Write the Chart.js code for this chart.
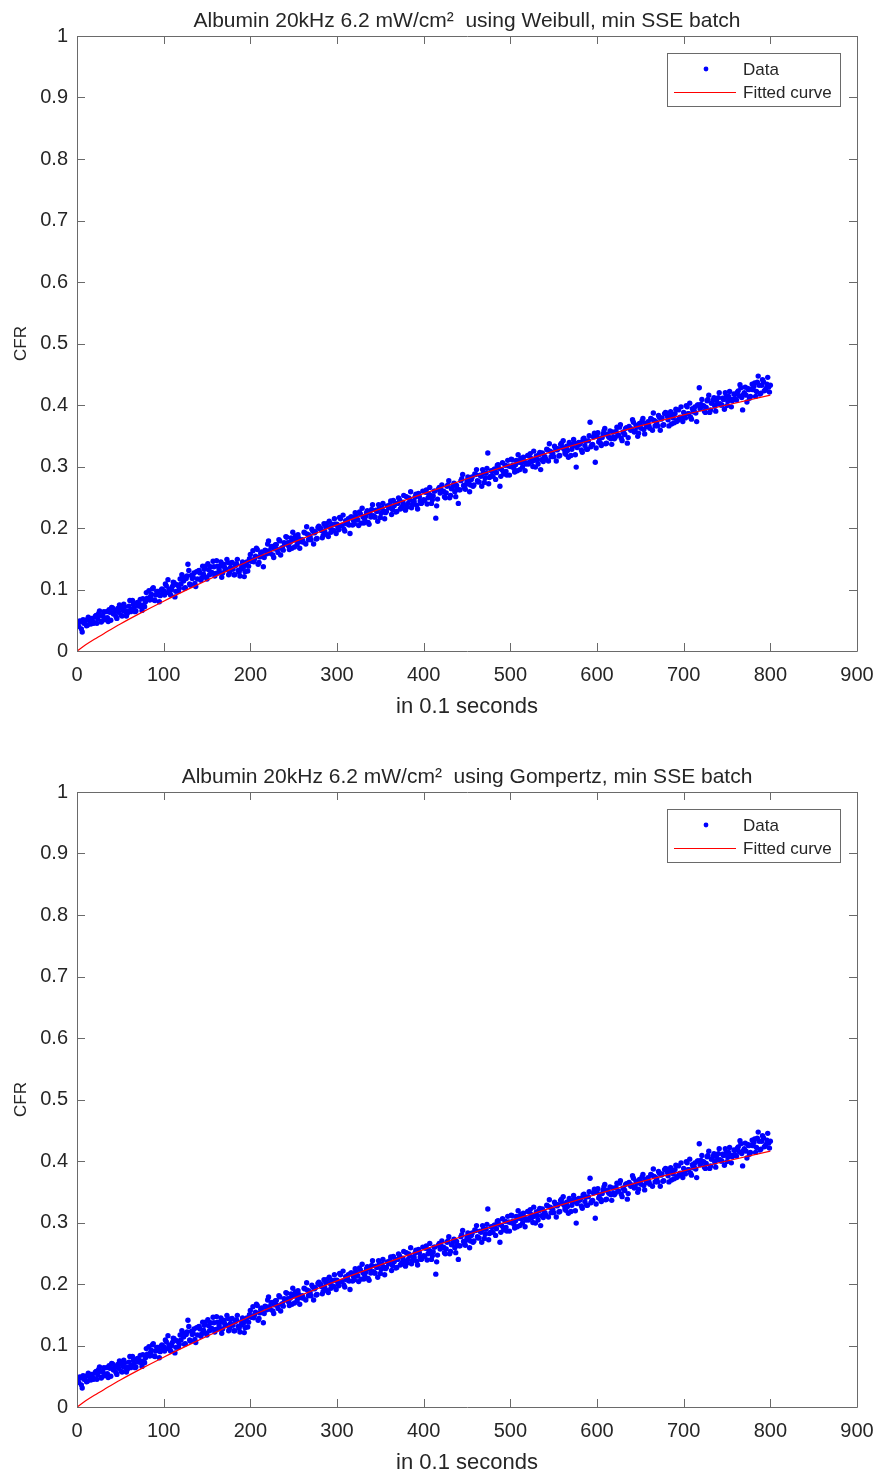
<!DOCTYPE html>
<html>
<head>
<meta charset="utf-8">
<script src="https://cdn.jsdelivr.net/npm/chart.js@4"></script>
<style>
  html, body { margin: 0; padding: 0; background: #fff; overflow: hidden; }
  canvas { position: absolute; left: 0; }
  #weibull { top: 0; }
  #gompertz { top: 756px; }
</style>
</head>
<body>
<canvas id="weibull" width="877" height="736"></canvas>
<canvas id="gompertz" width="877" height="736"></canvas>
<script>
// measured CFR (x in 0.1 s): even samples 0,2,...,800 and odd samples 1,3,...,799
const cfrEven = [
  0.046,0.040,0.048,0.031,0.045,0.050,0.042,0.052,0.044,0.049,
  0.046,0.058,0.052,0.065,0.047,0.057,0.053,0.064,0.048,0.063,
  0.071,0.060,0.066,0.053,0.063,0.070,0.057,0.076,0.064,0.061,
  0.073,0.064,0.082,0.071,0.065,0.079,0.076,0.072,0.085,0.072,
  0.095,0.085,0.083,0.092,0.103,0.082,0.097,0.092,0.090,0.101,
  0.098,0.109,0.095,0.101,0.091,0.105,0.111,0.097,0.107,0.102,
  0.109,0.121,0.102,0.118,0.141,0.109,0.123,0.120,0.110,0.129,
  0.130,0.127,0.119,0.125,0.138,0.117,0.132,0.137,0.127,0.137,
  0.126,0.138,0.132,0.145,0.127,0.137,0.133,0.144,0.128,0.143,
  0.133,0.124,0.142,0.131,0.122,0.139,0.136,0.129,0.145,0.138,
  0.157,0.147,0.145,0.154,0.165,0.144,0.159,0.154,0.152,0.163,
  0.174,0.163,0.169,0.156,0.166,0.173,0.160,0.179,0.167,0.164,
  0.174,0.185,0.171,0.177,0.167,0.181,0.187,0.173,0.183,0.178,
  0.181,0.193,0.174,0.190,0.188,0.181,0.195,0.192,0.182,0.201,
  0.199,0.196,0.188,0.194,0.207,0.186,0.201,0.206,0.196,0.206,
  0.206,0.197,0.215,0.204,0.198,0.212,0.209,0.205,0.218,0.205,
  0.207,0.219,0.213,0.226,0.208,0.218,0.214,0.225,0.209,0.224,
  0.230,0.220,0.218,0.227,0.238,0.217,0.232,0.227,0.225,0.236,
  0.233,0.244,0.230,0.236,0.226,0.240,0.246,0.232,0.242,0.237,
  0.251,0.240,0.246,0.233,0.243,0.250,0.237,0.256,0.244,0.241,
  0.246,0.258,0.239,0.255,0.253,0.246,0.260,0.216,0.247,0.266,
  0.262,0.259,0.251,0.257,0.270,0.249,0.264,0.269,0.259,0.269,
  0.240,0.262,0.280,0.269,0.263,0.277,0.274,0.270,0.283,0.270,
  0.287,0.277,0.275,0.284,0.295,0.274,0.289,0.322,0.282,0.293,
  0.284,0.296,0.290,0.303,0.268,0.295,0.291,0.302,0.286,0.301,
  0.300,0.311,0.297,0.303,0.293,0.307,0.313,0.299,0.309,0.304,
  0.318,0.307,0.313,0.300,0.310,0.317,0.304,0.323,0.311,0.308,
  0.316,0.328,0.309,0.325,0.323,0.316,0.330,0.327,0.317,0.336,
  0.331,0.328,0.320,0.326,0.339,0.318,0.333,0.338,0.299,0.338,
  0.336,0.327,0.345,0.334,0.328,0.342,0.372,0.335,0.348,0.307,
  0.350,0.340,0.338,0.347,0.358,0.337,0.352,0.347,0.345,0.356,
  0.345,0.357,0.351,0.364,0.346,0.356,0.352,0.363,0.347,0.362,
  0.361,0.372,0.358,0.364,0.354,0.368,0.374,0.360,0.370,0.365,
  0.366,0.378,0.359,0.375,0.373,0.366,0.380,0.377,0.367,0.386,
  0.387,0.376,0.382,0.369,0.379,0.386,0.373,0.392,0.380,0.377,
  0.388,0.379,0.397,0.386,0.380,0.394,0.391,0.387,0.400,0.428,
  0.401,0.398,0.390,0.396,0.409,0.388,0.403,0.408,0.398,0.408,
  0.412,0.402,0.400,0.409,0.420,0.399,0.414,0.409,0.407,0.418,
  0.409,0.421,0.415,0.428,0.392,0.420,0.416,0.427,0.411,0.426,
  0.425,0.436,0.422,0.447,0.418,0.432,0.438,0.424,0.434,0.429,
  0.432
];
const cfrOdd = [
  0.043,0.049,0.036,0.051,0.047,0.041,0.055,0.048,0.053,0.045,
  0.056,0.045,0.061,0.058,0.049,0.064,0.051,0.054,0.067,0.050,
  0.070,0.063,0.056,0.069,0.075,0.058,0.066,0.072,0.057,0.065,
  0.082,0.068,0.076,0.064,0.078,0.073,0.084,0.066,0.075,0.080,
  0.086,0.098,0.089,0.101,0.083,0.091,0.097,0.080,0.099,0.095,
  0.091,0.106,0.116,0.095,0.100,0.112,0.088,0.108,0.097,0.117,
  0.124,0.114,0.103,0.122,0.131,0.107,0.118,0.127,0.105,0.117,
  0.131,0.115,0.138,0.133,0.120,0.142,0.124,0.128,0.146,0.122,
  0.147,0.127,0.138,0.120,0.141,0.133,0.149,0.124,0.136,0.144,
  0.124,0.139,0.149,0.128,0.133,0.145,0.121,0.141,0.130,0.150,
  0.146,0.163,0.150,0.167,0.141,0.153,0.161,0.137,0.164,0.158,
  0.179,0.159,0.170,0.152,0.173,0.165,0.181,0.156,0.168,0.176,
  0.186,0.176,0.165,0.184,0.193,0.169,0.180,0.189,0.167,0.179,
  0.177,0.192,0.202,0.181,0.186,0.198,0.174,0.194,0.183,0.203,
  0.200,0.184,0.207,0.202,0.189,0.211,0.193,0.197,0.215,0.191,
  0.200,0.217,0.204,0.221,0.195,0.207,0.215,0.191,0.218,0.212,
  0.225,0.215,0.204,0.223,0.232,0.208,0.219,0.228,0.206,0.218,
  0.238,0.218,0.229,0.211,0.232,0.224,0.240,0.215,0.227,0.235,
  0.238,0.222,0.245,0.240,0.227,0.249,0.231,0.235,0.253,0.229,
  0.234,0.249,0.259,0.238,0.243,0.255,0.231,0.251,0.240,0.260,
  0.245,0.262,0.249,0.266,0.240,0.252,0.260,0.236,0.263,0.257,
  0.270,0.260,0.249,0.268,0.277,0.253,0.264,0.273,0.251,0.263,
  0.262,0.277,0.287,0.266,0.271,0.283,0.259,0.279,0.268,0.288,
  0.295,0.275,0.286,0.268,0.289,0.281,0.297,0.272,0.284,0.292,
  0.295,0.279,0.302,0.297,0.284,0.306,0.288,0.292,0.310,0.286,
  0.312,0.302,0.291,0.310,0.319,0.295,0.306,0.315,0.293,0.305,
  0.304,0.321,0.308,0.325,0.299,0.311,0.319,0.295,0.322,0.316,
  0.312,0.327,0.337,0.316,0.321,0.333,0.309,0.329,0.318,0.338,
  0.342,0.322,0.333,0.315,0.336,0.328,0.344,0.319,0.331,0.339,
  0.339,0.323,0.346,0.341,0.328,0.350,0.332,0.336,0.354,0.330,
  0.355,0.345,0.334,0.353,0.362,0.338,0.349,0.358,0.336,0.348,
  0.347,0.364,0.351,0.368,0.342,0.354,0.362,0.338,0.365,0.359,
  0.376,0.356,0.367,0.349,0.370,0.362,0.378,0.353,0.365,0.373,
  0.362,0.377,0.387,0.366,0.371,0.383,0.359,0.379,0.368,0.388,
  0.382,0.366,0.389,0.384,0.371,0.393,0.375,0.379,0.397,0.373,
  0.382,0.399,0.386,0.403,0.377,0.389,0.397,0.373,0.400,0.394,
  0.409,0.399,0.388,0.407,0.416,0.392,0.403,0.412,0.390,0.402,
  0.420,0.400,0.411,0.393,0.414,0.406,0.422,0.397,0.409,0.417,
  0.408,0.423,0.433,0.412,0.417,0.429,0.405,0.425,0.414,0.434,
  0.430,0.414,0.437,0.432,0.419,0.441,0.423,0.427,0.445,0.421
];

// fitted curves, read at a few x positions
const fitX = [0, 10, 20, 33, 50, 71, 100, 129, 150, 190, 200, 250, 280, 300, 350, 400, 450, 500, 550, 600, 650, 700, 750, 800];
const weibullY = [0, 0.010, 0.019, 0.030, 0.044, 0.060, 0.081, 0.101, 0.115, 0.141, 0.1475, 0.177, 0.194, 0.205, 0.231, 0.256, 0.280, 0.303, 0.325, 0.346, 0.366, 0.384, 0.400, 0.416];
const gompertzY = [0, 0.010, 0.019, 0.030, 0.044, 0.060, 0.081, 0.101, 0.115, 0.141, 0.1475, 0.177, 0.194, 0.205, 0.231, 0.256, 0.280, 0.303, 0.325, 0.346, 0.366, 0.384, 0.400, 0.416];

const xTicks = [0, 100, 200, 300, 400, 500, 600, 700, 800, 900];
const xTickLabels = ["0", "100", "200", "300", "400", "500", "600", "700", "800", "900"];
const yTicks = [0, 0.1, 0.2, 0.3, 0.4, 0.5, 0.6, 0.7, 0.8, 0.9, 1];
const yTickLabels = ["0", "0.1", "0.2", "0.3", "0.4", "0.5", "0.6", "0.7", "0.8", "0.9", "1"];

const textColor = "#262626";
const frameColor = "#6a6a6a";
const fontFamily = '"Liberation Sans", Arial, sans-serif';

Chart.defaults.font.family = fontFamily;
Chart.defaults.color = textColor;

// MATLAB style box with inward ticks on all four sides
const boxAxes = {
  id: "boxAxes",
  afterDatasetsDraw(chart) {
    const { ctx, chartArea: a, scales } = chart;
    const tick = 8;
    ctx.save();
    ctx.strokeStyle = frameColor;
    ctx.lineWidth = 1;
    ctx.beginPath();
    ctx.rect(a.left + 0.5, a.top + 0.5, a.right - a.left, a.bottom - a.top);
    xTicks.forEach((v) => {
      const px = Math.round(scales.x.getPixelForValue(v)) + 0.5;
      ctx.moveTo(px, a.bottom); ctx.lineTo(px, a.bottom - tick);
      ctx.moveTo(px, a.top); ctx.lineTo(px, a.top + tick);
    });
    yTicks.forEach((v) => {
      const py = Math.round(scales.y.getPixelForValue(v)) + 0.5;
      ctx.moveTo(a.left, py); ctx.lineTo(a.left + tick, py);
      ctx.moveTo(a.right, py); ctx.lineTo(a.right - tick, py);
    });
    ctx.stroke();
    ctx.restore();
  },
};

// legend box inside the axes, top right
const boxLegend = {
  id: "boxLegend",
  afterDraw(chart) {
    const { ctx, chartArea: a } = chart;
    const w = 173, h = 53;
    const left = Math.round(a.right - 17 - w), top = Math.round(a.top + 17);
    ctx.save();
    ctx.fillStyle = "#ffffff";
    ctx.fillRect(left, top, w, h);
    ctx.strokeStyle = frameColor;
    ctx.lineWidth = 1;
    ctx.strokeRect(left + 0.5, top + 0.5, w, h);
    ctx.font = "17px " + fontFamily;
    ctx.textBaseline = "middle";
    chart.data.datasets.forEach((ds, i) => {
      const y = top + 16 + i * 23;
      if (ds.showLine) {
        ctx.strokeStyle = ds.borderColor;
        ctx.lineWidth = ds.borderWidth;
        ctx.beginPath();
        ctx.moveTo(left + 7, y + 0.5);
        ctx.lineTo(left + 69, y + 0.5);
        ctx.stroke();
      } else {
        ctx.fillStyle = ds.pointBackgroundColor;
        ctx.beginPath();
        ctx.arc(left + 39, y, 2.4, 0, Math.PI * 2);
        ctx.fill();
      }
      ctx.fillStyle = textColor;
      ctx.fillText(ds.label, left + 76, y + 1);
    });
    ctx.restore();
  },
};

const cfrPoints = [];
cfrEven.forEach((y, i) => {
  cfrPoints.push({ x: i * 2, y: y });
  if (i < cfrOdd.length) cfrPoints.push({ x: i * 2 + 1, y: cfrOdd[i] });
});

function makeChart(canvasId, titleText, fitY) {
  return new Chart(document.getElementById(canvasId), {
    type: "scatter",
    plugins: [boxAxes, boxLegend],
    data: {
      datasets: [
        {
          label: "Data",
          data: cfrPoints,
          showLine: false,
          pointRadius: 2.7,
          pointBorderWidth: 0,
          pointBackgroundColor: "#0000ff",
          backgroundColor: "#0000ff",
          borderColor: "#0000ff",
          order: 1,
        },
        {
          label: "Fitted curve",
          data: fitX.map((x, i) => ({ x: x, y: fitY[i] })),
          showLine: true,
          pointRadius: 0,
          borderColor: "#ff0000",
          borderWidth: 1.2,
          cubicInterpolationMode: "monotone",
          fill: false,
          order: 0,
        },
      ],
    },
    options: {
      responsive: false,
      animation: false,
      devicePixelRatio: 1,
      layout: { padding: { left: 0, right: 20, top: 0, bottom: 0 } },
      plugins: {
        legend: { display: false },
        tooltip: { enabled: false },
        title: {
          display: true,
          text: titleText,
          fullSize: false,
          color: textColor,
          font: { size: 21, weight: "normal" },
          padding: { top: 9, bottom: 1.8 },
        },
      },
      scales: {
        x: {
          type: "linear",
          min: 0,
          max: 900,
          grid: { display: false, drawTicks: false },
          border: { display: false },
          afterBuildTicks: (s) => { s.ticks = xTicks.map((v) => ({ value: v })); },
          ticks: {
            padding: 12,
            maxRotation: 0,
            autoSkip: false,
            font: { size: 20 },
            callback: (v, i) => xTickLabels[i],
          },
          title: {
            display: true,
            text: "in 0.1 seconds",
            font: { size: 22 },
            padding: { top: 0, bottom: 16 },
          },
          afterFit: (s) => { s.height = 85; s.paddingLeft = 0; s.paddingRight = 0; },
        },
        y: {
          min: 0,
          max: 1,
          grid: { display: false, drawTicks: false },
          border: { display: false },
          afterBuildTicks: (s) => { s.ticks = yTicks.map((v) => ({ value: v })); },
          ticks: {
            padding: 9,
            font: { size: 20 },
            callback: (v, i) => yTickLabels[i],
          },
          title: {
            display: true,
            text: "CFR",
            font: { size: 17 },
            padding: { top: 11.5, bottom: 0 },
          },
          afterFit: (s) => { s.width = 77; },
        },
      },
    },
  });
}

makeChart("weibull", "Albumin 20kHz 6.2 mW/cm\u00b2  using Weibull, min SSE batch", weibullY);
makeChart("gompertz", "Albumin 20kHz 6.2 mW/cm\u00b2  using Gompertz, min SSE batch", gompertzY);
</script>
</body>
</html>
